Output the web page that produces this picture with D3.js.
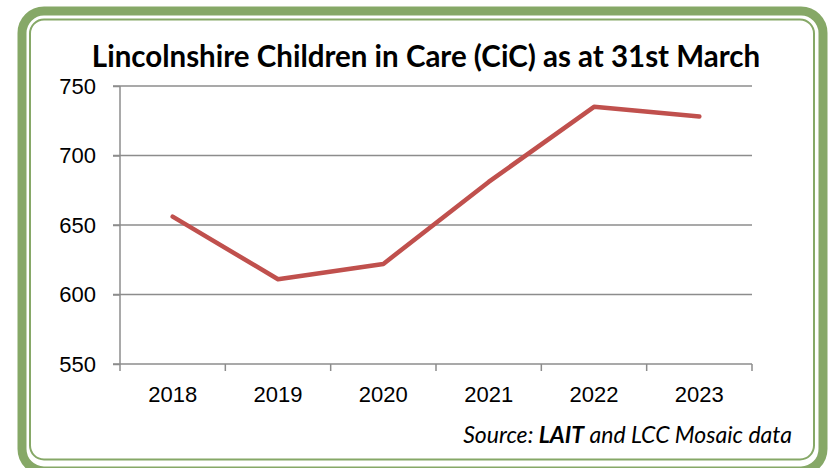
<!DOCTYPE html>
<html>
<head>
<meta charset="utf-8">
<script src="https://cdn.jsdelivr.net/npm/d3@7"></script>
<style>
  body { margin: 0; background: #fff; }
  svg { font-family: Lato, "Open Sans", sans-serif; }
</style>
</head>
<body>
<svg width="831" height="468"></svg>
<script>
const years = ["2018", "2019", "2020", "2021", "2022", "2023"];
const cicCounts = [656, 611, 622, 681, 735, 728];
const yTicks = [550, 600, 650, 700, 750];

const svg = d3.select("svg"),
      margin = { top: 86, right: 79, bottom: 104, left: 120 },
      width = +svg.attr("width") - margin.left - margin.right,
      height = +svg.attr("height") - margin.top - margin.bottom;

// frame
svg.append("rect").attr("x", 22).attr("y", 11).attr("width", 801).attr("height", 460)
   .attr("rx", 22).attr("fill", "none").attr("stroke", "#86a867").attr("stroke-width", 9);
svg.append("rect").attr("x", 30).attr("y", 19.5).attr("width", 784).attr("height", 440)
   .attr("rx", 14).attr("fill", "none").attr("stroke", "#86a867").attr("stroke-width", 2);

svg.append("text")
   .attr("x", 426).attr("y", 67)
   .attr("text-anchor", "middle")
   .style("font-size", "29.5px").style("font-weight", "bold")
   .text("Lincolnshire Children in Care (CiC) as at 31st March");

const xScale = d3.scaleBand().domain(years).range([0, width]);
const yScale = d3.scaleLinear().domain([550, 750]).range([height, 0]);

const g = svg.append("g").attr("transform", `translate(${margin.left},${margin.top})`);

// gridlines
g.append("g").selectAll("line").data(yTicks.slice(1)).join("line")
  .attr("x1", -7).attr("x2", width)
  .attr("y1", d => yScale(d)).attr("y2", d => yScale(d))
  .attr("stroke", "#8c8c8c").attr("stroke-width", 1.5);

const yAxis = g.append("g").call(d3.axisLeft(yScale).tickValues(yTicks).tickSize(7).tickPadding(17));
const xAxis = g.append("g").attr("transform", `translate(0,${height})`)
  .call(d3.axisBottom(xScale).tickSize(0).tickPadding(22));

[yAxis, xAxis].forEach(a => {
  a.select(".domain").attr("stroke", "#8c8c8c").attr("stroke-width", 1.5);
  a.selectAll(".tick line").attr("stroke", "#8c8c8c").attr("stroke-width", 1.5);
  a.selectAll("text").style("font-size", "22px").attr("fill", "#000");
});
yAxis.select(".domain").attr("d", `M0,0V${height}`);
xAxis.select(".domain").attr("d", `M-7,0H${width}`);

// category boundary ticks
g.append("g").selectAll("line").data(years).join("line")
  .attr("x1", d => xScale(d)).attr("x2", d => xScale(d))
  .attr("y1", height).attr("y2", height + 7)
  .attr("stroke", "#8c8c8c").attr("stroke-width", 1.5);
g.append("line").attr("x1", width).attr("x2", width).attr("y1", height).attr("y2", height + 7)
  .attr("stroke", "#8c8c8c").attr("stroke-width", 1.5);

g.append("path").datum(cicCounts)
  .attr("fill", "none").attr("stroke", "#c0504d").attr("stroke-width", 4.5)
  .attr("stroke-linejoin", "round").attr("stroke-linecap", "round")
  .attr("d", d3.line()
      .x((d, i) => xScale(years[i]) + xScale.bandwidth() / 2)
      .y(d => yScale(d)));

const src = svg.append("text")
  .attr("x", 792).attr("y", 443).attr("text-anchor", "end")
  .style("font-size", "23px").style("font-style", "italic");
src.append("tspan").text("Source: ");
src.append("tspan").style("font-weight", "bold").text("LAIT");
src.append("tspan").text(" and LCC Mosaic data");
</script>
</body>
</html>
